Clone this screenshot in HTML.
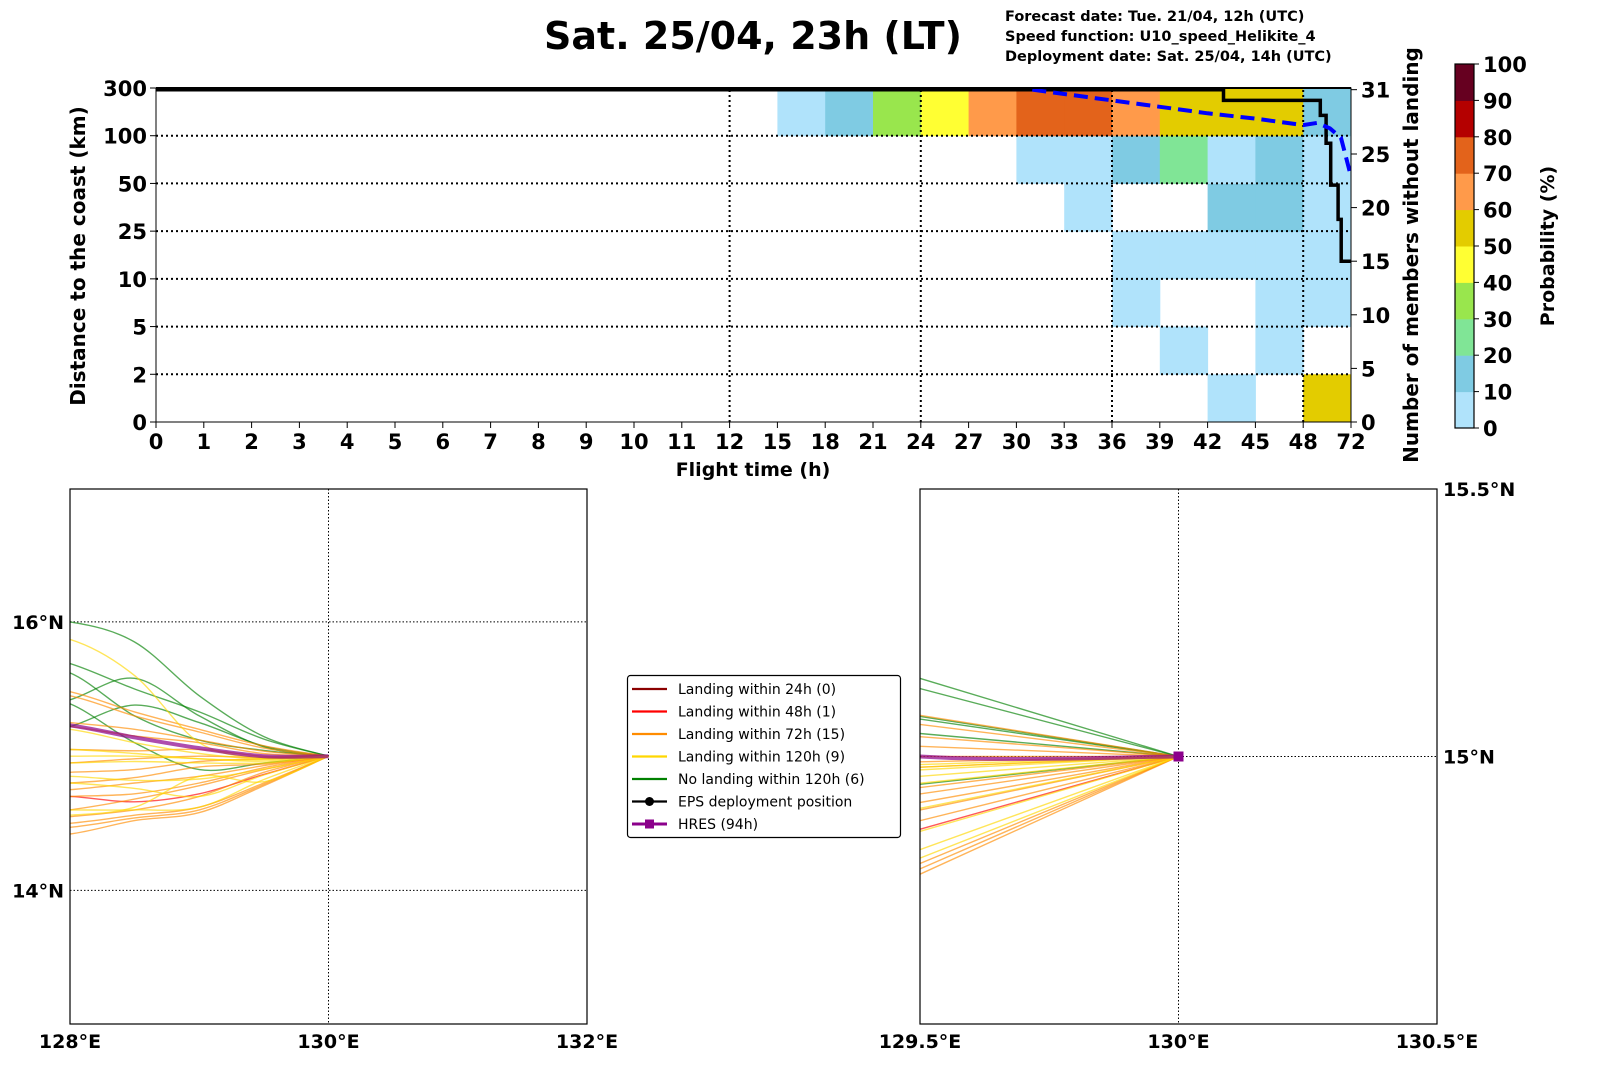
<!DOCTYPE html>
<html><head><meta charset="utf-8"><style>
html,body{margin:0;padding:0;background:#fff}
svg{display:block;font-family:"DejaVu Sans","Liberation Sans",sans-serif}
</style></head><body>
<svg id="fig" width="1611" height="1088" viewBox="0 0 1611 1088" xmlns="http://www.w3.org/2000/svg">
<text x="753" y="49" font-size="38" font-weight="bold" text-anchor="middle">Sat. 25/04, 23h (LT)</text>
<g font-size="14.5" font-weight="bold">
<text x="1005" y="21">Forecast date: Tue. 21/04, 12h (UTC)</text>
<text x="1005" y="41">Speed function: U10_speed_Helikite_4</text>
<text x="1005" y="61">Deployment date: Sat. 25/04, 14h (UTC)</text>
</g>
<g id="heat"></g>
<g id="cbar"></g>
<g id="mapL"></g>
<g id="mapR"></g>
<g id="legend"></g>
</svg>
<script>
// ---------- heatmap data ----------
const xTickLabels = ["0","1","2","3","4","5","6","7","8","9","10","11","12","15","18","21","24","27","30","33","36","39","42","45","48","72"];
const yTickLabels = ["0","2","5","10","25","50","100","300"];
const rightTicks = [0,5,10,15,20,25,31];
const probRow0 = [0,0,0,0,0,0,0,0,0,0,0,0,0,0,0,0,0,0,0,0,0,0,5,0,55];
const probRow1 = [0,0,0,0,0,0,0,0,0,0,0,0,0,0,0,0,0,0,0,0,0,5,0,5,0];
const probRow2 = [0,0,0,0,0,0,0,0,0,0,0,0,0,0,0,0,0,0,0,0,5,0,0,5,5];
const probRow3 = [0,0,0,0,0,0,0,0,0,0,0,0,0,0,0,0,0,0,0,0,5,5,5,5,5];
const probRow4 = [0,0,0,0,0,0,0,0,0,0,0,0,0,0,0,0,0,0,0,5,0,0,15,15,5];
const probRow5 = [0,0,0,0,0,0,0,0,0,0,0,0,0,0,0,0,0,0,5,5,15,25,5,15,5];
const probRow6 = [0,0,0,0,0,0,0,0,0,0,0,0,0,5,15,35,45,65,75,75,65,55,55,55,15];
const probRows = [probRow0,probRow1,probRow2,probRow3,probRow4,probRow5,probRow6];
const blackHours = [0,43,43,56.6,56.6,59.5,59.5,61.8,61.8,65.5,65.5,67.1,67.1,69.6,69.6,72];
const blackCounts = [31,31,30,30,28.6,28.6,26,26,22.1,22.1,18.9,18.9,15,15,15,15];
const trendHours = [31,36,39,42,45,48,55,61.4,67,72];
const trendCounts = [31,30,29.4,28.8,28.3,27.7,27.9,27.4,26.5,22.9];

const cbColors = ["#b0e3fb","#7fcbe3","#80e596","#99e64d","#ffff33","#e3cc00","#ff9a4a","#e3631b","#b40000","#660020"];
function colorFor(p){return cbColors[Math.min(9,Math.floor(p/10))];}

const NS="http://www.w3.org/2000/svg";
function mk(tag,attrs,parent,txt){const e=document.createElementNS(NS,tag);for(const k in attrs)e.setAttribute(k,attrs[k]);if(txt!==undefined)e.textContent=txt;parent.appendChild(e);return e;}

const HX0=156,HX1=1351,HY0=422,HY1=88;
const colW=(HX1-HX0)/25, rowH=(HY0-HY1)/7;
function xIdx(i){return HX0+i*colW;}
function yIdx(j){return HY0-j*rowH;}
function hourToX(h){ if(h<=12) return HX0+h*colW; if(h<=48) return xIdx(12+(h-12)/3); return xIdx(24+(h-48)/24); }
function yRight(v){return HY0-v*10.72;}

const heat=document.getElementById('heat');
probRows.forEach((row,j)=>row.forEach((p,i)=>{ if(p>0){
  const r=mk('rect',{x:xIdx(i),y:yIdx(j+1),width:colW+0.5,height:rowH+0.5,fill:colorFor(p)},heat);
  
  
}}));
[1,2,3,4,5,6].forEach(j=>{const l=mk('line',{x1:HX0,x2:HX1,y1:yIdx(j),y2:yIdx(j),stroke:'#000','stroke-width':2,'stroke-dasharray':'2,3'},heat);
  });
[12,16,20,24].forEach(i=>{const l=mk('line',{x1:xIdx(i),x2:xIdx(i),y1:HY0,y2:HY1,stroke:'#000','stroke-width':2,'stroke-dasharray':'2,3'},heat);
  });
let d='';blackHours.forEach((h,k)=>{d+=(k?'L':'M')+hourToX(h).toFixed(1)+','+yRight(blackCounts[k]).toFixed(1);});
const bl=mk('path',{d:d,fill:'none',stroke:'#000','stroke-width':3.5},heat);

d='';trendHours.forEach((h,k)=>{d+=(k?'L':'M')+hourToX(h).toFixed(1)+','+yRight(trendCounts[k]).toFixed(1);});
const tl=mk('path',{d:d,fill:'none',stroke:'#0000ff','stroke-width':4,'stroke-dasharray':'14,7'},heat);

mk('line',{x1:HX0,x2:HX1,y1:HY1,y2:HY1,stroke:'#000','stroke-width':2},heat);
mk('rect',{x:HX0,y:HY1,width:HX1-HX0,height:HY0-HY1,fill:'none',stroke:'#000','stroke-width':1},heat);
xTickLabels.forEach((t,i)=>{const x=xIdx(i);mk('line',{x1:x,x2:x,y1:HY0,y2:HY0+6,stroke:'#000'},heat);
  const e=mk('text',{x:x,y:HY0+27,'font-size':21,'font-weight':'bold','text-anchor':'middle'},heat,t);
  });
yTickLabels.forEach((t,j)=>{const y=yIdx(j);mk('line',{x1:HX0-6,x2:HX0,y1:y,y2:y,stroke:'#000'},heat);
  const e=mk('text',{x:HX0-9,y:y+8,'font-size':21,'font-weight':'bold','text-anchor':'end'},heat,t);
  });
rightTicks.forEach(v=>{const y=yRight(v);mk('line',{x1:HX1,x2:HX1+6,y1:y,y2:y,stroke:'#000'},heat);
  const e=mk('text',{x:HX1+10,y:y+8,'font-size':21,'font-weight':'bold'},heat,String(v));
  });
let e=mk('text',{x:753,y:476,'font-size':19,'font-weight':'bold','text-anchor':'middle'},heat,'Flight time (h)');

e=mk('text',{x:0,y:0,'font-size':20,'font-weight':'bold','text-anchor':'middle',transform:'translate(85,256) rotate(-90)'},heat,'Distance to the coast (km)');

e=mk('text',{x:0,y:0,'font-size':20,'font-weight':'bold','text-anchor':'middle',transform:'translate(1418,255) rotate(-90)'},heat,'Number of members without landing');


// ---------- colorbar ----------
const cbTicks=[0,10,20,30,40,50,60,70,80,90,100];
const cb=document.getElementById('cbar');const CB0=428,CB1=64,CBX=1455,CBW=19;
cbColors.forEach((c,k)=>{const r=mk('rect',{x:CBX,y:CB0-(k+1)*(CB0-CB1)/10,width:CBW,height:(CB0-CB1)/10+0.5,fill:c},cb);
  });
mk('rect',{x:CBX,y:CB1,width:CBW,height:CB0-CB1,fill:'none',stroke:'#000','stroke-width':1.2},cb);
cbTicks.forEach(v=>{const y=CB0-v*(CB0-CB1)/100;mk('line',{x1:CBX+CBW,x2:CBX+CBW+5,y1:y,y2:y,stroke:'#000'},cb);
  const t=mk('text',{x:CBX+CBW+9,y:y+8,'font-size':21,'font-weight':'bold'},cb,String(v));
  });
e=mk('text',{x:0,y:0,'font-size':19,'font-weight':'bold','text-anchor':'middle',transform:'translate(1554,246) rotate(-90)'},cb,'Probability (%)');


// ---------- trajectories ----------
const trackLons=[130,129.5,129,128.5,128,127.5];
const trackColors=["#008000","#008000","#008000","#008000","#008000","#008000","#ff0000",
 "#ff8c00","#ff8c00","#ff8c00","#ff8c00","#ff8c00","#ff8c00","#ff8c00","#ff8c00","#ff8c00","#ff8c00","#ff8c00","#ff8c00","#ff8c00","#ff8c00","#ff8c00",
 "#ffd700","#ffd700","#ffd700","#ffd700","#ffd700","#ffd700","#ffd700","#ffd700","#ffd700"];
const trackLats=[
 [15,15.146,15.45,15.85,16.0,16.0],
 [15,15.127,15.33,15.5,15.69,15.8],
 [15,15.07,15.3,15.58,15.42,15.3],
 [15,15.043,15.12,15.3,15.62,15.7],
 [15,14.948,14.9,15.1,15.39,15.5],
 [15,15.075,15.25,15.38,15.22,15.1],
 [15,14.864,14.72,14.66,14.7,14.7],
 [15,15.077,15.2,15.33,15.48,15.55],
 [15,15.06,15.18,15.3,15.45,15.5],
 [15,15.037,15.12,15.2,15.25,15.3],
 [15,15.019,15.1,15.15,15.22,15.25],
 [15,15.0,15.05,15.04,15.05,15.05],
 [15,14.99,15.0,14.98,14.95,14.93],
 [15,14.98,14.96,14.9,14.88,14.86],
 [15,14.942,14.92,14.84,14.8,14.78],
 [15,14.93,14.85,14.8,14.75,14.72],
 [15,14.914,14.8,14.72,14.7,14.68],
 [15,14.90,14.78,14.68,14.6,14.55],
 [15,14.88,14.7,14.6,14.55,14.52],
 [15,14.80,14.62,14.56,14.5,14.48],
 [15,14.79,14.6,14.54,14.47,14.45],
 [15,14.78,14.58,14.52,14.42,14.4],
 [15,14.985,15.1,15.6,15.87,15.9],
 [15,14.98,15.02,15.1,15.2,15.22],
 [15,14.975,14.98,15.02,15.05,15.05],
 [15,14.963,14.98,15.0,15.0,15.0],
 [15,14.95,14.95,14.96,14.95,14.95],
 [15,14.903,14.83,14.82,14.85,14.85],
 [15,14.86,14.7,14.76,14.8,14.8],
 [15,14.826,14.62,14.6,14.6,14.6],
 [15,14.81,14.85,14.62,14.56,14.55]];
const hresLats=[15,15.0,15.06,15.14,15.23,15.27];

function splinePath(pts){let d='M'+pts[0][0].toFixed(1)+','+pts[0][1].toFixed(1);
 for(let i=0;i<pts.length-1;i++){const p0=pts[Math.max(0,i-1)],p1=pts[i],p2=pts[i+1],p3=pts[Math.min(pts.length-1,i+2)];
  const c1=[p1[0]+(p2[0]-p0[0])/6,p1[1]+(p2[1]-p0[1])/6],c2=[p2[0]-(p3[0]-p1[0])/6,p2[1]-(p3[1]-p1[1])/6];
  d+='C'+c1[0].toFixed(1)+','+c1[1].toFixed(1)+' '+c2[0].toFixed(1)+','+c2[1].toFixed(1)+' '+p2[0].toFixed(1)+','+p2[1].toFixed(1);}
 return d;}

function drawMap(gid,cfg){
 const g=document.getElementById(gid);
 const X=lon=>cfg.x0+(lon-cfg.lon0)*(cfg.x1-cfg.x0)/(cfg.lon1-cfg.lon0);
 const Y=lat=>cfg.y1-(lat-cfg.lat0)*(cfg.y1-cfg.y0)/(cfg.lat1-cfg.lat0);
 const cid='clip'+gid;
 const cp=mk('clipPath',{id:cid},g);mk('rect',{x:cfg.x0,y:cfg.y0,width:cfg.x1-cfg.x0,height:cfg.y1-cfg.y0},cp);
 const inner=mk('g',{'clip-path':'url(#'+cid+')'},g);
 cfg.gridLons.forEach(l=>{const x=X(l);const ln=mk('line',{x1:x,x2:x,y1:cfg.y0,y2:cfg.y1,stroke:'#000','stroke-width':1,'stroke-dasharray':'1.5,2'},inner);
   });
 cfg.gridLats.forEach(l=>{const y=Y(l);const ln=mk('line',{x1:cfg.x0,x2:cfg.x1,y1:y,y2:y,stroke:'#000','stroke-width':1,'stroke-dasharray':'1.5,2'},inner);
   });
 trackLats.forEach((lats,k)=>{const pts=lats.map((la,i)=>[X(trackLons[i]),Y(la)]);
   let dd;
   if(cfg.straight){const dx=pts[1][0]-pts[0][0],dy=pts[1][1]-pts[0][1];dd='M'+pts[0][0]+','+pts[0][1]+'L'+(pts[0][0]+2*dx)+','+(pts[0][1]+2*dy);}
   else dd=splinePath(pts);
   const p=mk('path',{d:dd,fill:'none',stroke:trackColors[k],'stroke-width':1.4,'stroke-opacity':0.65},inner);
   });
 const hp=hresLats.map((la,i)=>[X(trackLons[i]),Y(la)]);
 const h=mk('path',{d:splinePath(hp),fill:'none',stroke:'#8b008b','stroke-width':4,'stroke-opacity':0.7},inner);
 
 if(cfg.marker){const m=mk('rect',{x:X(130)-5,y:Y(15)-5,width:10,height:10,fill:'#8b008b'},inner);
   }
 mk('rect',{x:cfg.x0,y:cfg.y0,width:cfg.x1-cfg.x0,height:cfg.y1-cfg.y0,fill:'none',stroke:'#000','stroke-width':1.2},g);
 cfg.lonLabels.forEach((t,i)=>{const tx=mk('text',{x:X(cfg.gridLonsAll[i]),y:cfg.y1+24,'font-size':19,'font-weight':'bold','text-anchor':'middle'},g,t);
   });
 cfg.latLabels.forEach((t,i)=>{const tx=mk('text',{x:cfg.latX,y:Y(cfg.latVals[i])+7,'font-size':19,'font-weight':'bold','text-anchor':cfg.latAnchor},g,t);
   });
}
drawMap('mapL',{x0:70,x1:587,y0:489,y1:1024,lon0:128,lon1:132,lat0:13.005,lat1:16.99,
 gridLons:[130],gridLats:[14,16],gridLonsAll:[128,130,132],lonLabels:["128°E","130°E","132°E"],
 latVals:[14,16],latLabels:["14°N","16°N"],latX:64,latAnchor:'end',marker:false,straight:false});
drawMap('mapR',{x0:920,x1:1437,y0:489,y1:1024,lon0:129.5,lon1:130.5,lat0:14.5,lat1:15.5,
 gridLons:[130],gridLats:[15],gridLonsAll:[129.5,130,130.5],lonLabels:["129.5°E","130°E","130.5°E"],
 latVals:[15,15.5],latLabels:["15°N","15.5°N"],latX:1443,latAnchor:'start',marker:true,straight:true});

// ---------- legend ----------
const legendLabels=["Landing within 24h (0)","Landing within 48h (1)","Landing within 72h (15)","Landing within 120h (9)","No landing within 120h (6)","EPS deployment position","HRES (94h)"];
const legendColors=["#8b0000","#ff0000","#ff8c00","#ffd700","#008000","#000000","#8b008b"];
const lg=document.getElementById('legend');
mk('rect',{x:627.5,y:675.5,width:273,height:162,rx:3,fill:'#fff',stroke:'#000','stroke-width':1.2},lg);
legendLabels.forEach((t,k)=>{const y=689+k*22.5;
 const ent=mk('g',{},lg);
 mk('line',{x1:632,x2:667,y1:y,y2:y,stroke:legendColors[k],'stroke-width':k===6?3:2.2},ent);
 if(k===5)mk('circle',{cx:649.5,cy:y,r:4.5,fill:'#000'},ent);
 if(k===6)mk('rect',{x:645,y:y-4.5,width:9,height:9,fill:'#8b008b'},ent);
 mk('text',{x:678,y:y+5,'font-size':14},ent,t);});
</script>
</body></html>
